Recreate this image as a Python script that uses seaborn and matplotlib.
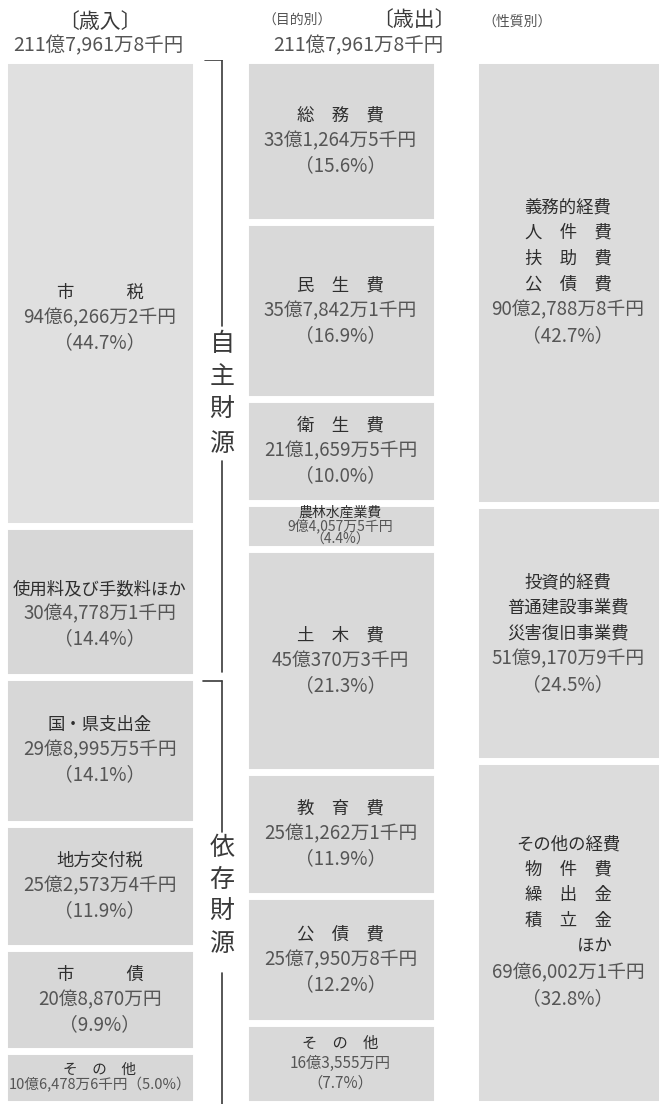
import matplotlib
matplotlib.use('Agg')
import matplotlib.pyplot as plt
import seaborn as sns
import numpy as np

# ==============================================================================
# データ（歳入・歳出）
# ==============================================================================
total_text = '211億7,961万8千円'

rev_labels = ['市　　　税', '使用料及び手数料ほか', '国・県支出金', '地方交付税', '市　　　債', 'そ　の　他']
rev_amounts = ['94億6,266万2千円', '30億4,778万1千円', '29億8,995万5千円',
               '25億2,573万4千円', '20億8,870万円', '10億6,478万6千円']
rev_pct = [44.7, 14.4, 14.1, 11.9, 9.9, 5.0]

pur_labels = ['総　務　費', '民　生　費', '衛　生　費', '農林水産業費',
              '土　木　費', '教　育　費', '公　債　費', 'そ　の　他']
pur_amounts = ['33億1,264万5千円', '35億7,842万1千円', '21億1,659万5千円', '9億4,057万5千円',
               '45億370万3千円', '25億1,262万1千円', '25億7,950万8千円', '16億3,555万円']
pur_pct = [15.6, 16.9, 10.0, 4.4, 21.3, 11.9, 12.2, 7.7]

nat_labels = ['義務的経費', '投資的経費', 'その他の経費']
nat_items = [['人　件　費', '扶　助　費', '公　債　費'],
             ['普通建設事業費', '災害復旧事業費'],
             ['物　件　費', '繰　出　金', '積　立　金', '　　　ほか']]
nat_amounts = ['90億2,788万8千円', '51億9,170万9千円', '69億6,002万1千円']
nat_pct = [42.7, 24.5, 32.8]

# 自主財源 = 市税 + 使用料及び手数料ほか
jishu_pct = rev_pct[0] + rev_pct[1]

# ==============================================================================
# スタイル
# ==============================================================================
sns.set_theme(style='white')
plt.rcParams['font.family'] = ['Noto Sans CJK JP', 'DejaVu Sans']

W, H = 662, 1105
fig = plt.figure(figsize=(W / 100, H / 100), dpi=100, facecolor='white')
top_px, bot_px = 59.5, 1103.5
ax = fig.add_axes([0, 1 - bot_px / H, 1, (bot_px - top_px) / H])

GAP_LW = 5.0
NAME_C = '#2e2e2e'
TEXT_C = '#555555'
BIG = 13.5
STEP = 18


def draw_column(cx, width, pcts, colors):
    cum = np.cumsum(pcts)
    # 大きい累積値から描いて上書きしていく
    for c, col in zip(cum[::-1], colors[::-1]):
        sns.barplot(x=[cx], y=[c], native_scale=True, width=width, color=col,
                    saturation=1, edgecolor='white', linewidth=GAP_LW,
                    errorbar=None, ax=ax)
    return cum - np.array(pcts) / 2


def put_lines(cx, cy, lines, sizes, step, colors, shift=0):
    n = len(lines)
    for i, (t, s, c) in enumerate(zip(lines, sizes, colors)):
        off = (n - 1) / 2 * step - i * step - shift
        ax.annotate(t, xy=(cx, cy), xytext=(0, off), textcoords='offset points',
                    ha='center', va='center', fontsize=s, color=c)


# --- 歳入 ---
rev_colors = ['#e0e0e0'] + ['#d7d7d7'] * 5
rev_shift = [18, 9, 0, 0, 0, 0]
rev_mid = draw_column(100, 192, rev_pct, rev_colors)
for i, (lab, amt, p) in enumerate(zip(rev_labels, rev_amounts, rev_pct)):
    if p < 6:
        put_lines(100, rev_mid[i], [lab, f'{amt}（{p}%）'], [10.5, 10.5], 11,
                  [NAME_C, TEXT_C])
    else:
        put_lines(100, rev_mid[i], [lab, amt, f'（{p}%）'], [12.5, BIG, BIG], STEP,
                  [NAME_C, TEXT_C, TEXT_C], rev_shift[i])

# --- 歳出（目的別）---
pur_colors = ['#d9d9d9'] * len(pur_pct)
pur_mid = draw_column(340.5, 192, pur_pct, pur_colors)
for i, (lab, amt, p) in enumerate(zip(pur_labels, pur_amounts, pur_pct)):
    if p < 5:
        put_lines(340.5, pur_mid[i], [lab, amt, f'（{p}%）'], [10] * 3, 9.5,
                  [NAME_C, TEXT_C, TEXT_C])
    elif p < 8:
        put_lines(340.5, pur_mid[i], [lab, amt, f'（{p}%）'], [11] * 3, 14.5,
                  [NAME_C, TEXT_C, TEXT_C])
    else:
        put_lines(340.5, pur_mid[i], [lab, amt, f'（{p}%）'], [12.5, BIG, BIG], STEP,
                  [NAME_C, TEXT_C, TEXT_C])

# --- 歳出（性質別）---
nat_colors = ['#dcdcdc'] * len(nat_pct)
nat_shift = [-8, 0, -8]
nat_mid = draw_column(568, 187, nat_pct, nat_colors)
for i, (lab, items, amt, p) in enumerate(zip(nat_labels, nat_items, nat_amounts, nat_pct)):
    lines = [lab] + items + [amt, f'（{p}%）']
    cols = [NAME_C] * (1 + len(items)) + [TEXT_C, TEXT_C]
    sizes = [12.5] * (1 + len(items)) + [BIG, BIG]
    put_lines(568, nat_mid[i], lines, sizes, 18.5, cols, nat_shift[i])

# --- 自主財源 / 依存財源 の括弧 ---
bx = 222
lc = '#3a3a3a'
ax.plot([205, bx], [0, 0], color=lc, lw=1.2)
ax.plot([bx, bx], [0, 25.5], color=lc, lw=1.2)
ax.plot([bx, bx], [38.5, jishu_pct - 0.4], color=lc, lw=1.2)
ax.plot([203, bx], [jishu_pct + 0.4, jishu_pct + 0.4], color=lc, lw=1.2)
ax.plot([bx, bx], [jishu_pct + 0.4, 74.0], color=lc, lw=1.2)
ax.plot([bx, bx], [87.5, 100], color=lc, lw=1.2)

for j, ch in enumerate('自主財源'):
    ax.annotate(ch, xy=(bx, 32), xytext=(0, 36 - j * 24), textcoords='offset points',
                ha='center', va='center', fontsize=18, color='#3a3a3a')
for j, ch in enumerate('依存財源'):
    ax.annotate(ch, xy=(bx, (jishu_pct + 100) / 2 + 0.8), xytext=(0, 36 - j * 23),
                textcoords='offset points', ha='center', va='center',
                fontsize=18, color='#3a3a3a')

ax.set_xlim(0, W)
ax.set_ylim(100, 0)
ax.axis('off')

# --- 見出し ---
def ftext(x, y, s, size, color='#3a3a3a'):
    fig.text(x / W, 1 - y / H, s, ha='center', va='center', fontsize=size, color=color)

ftext(100, 22, '〔歳入〕', 15)
ftext(98, 46, total_text, 14, TEXT_C)
ftext(297, 20, '（目的別）', 10, TEXT_C)
ftext(414, 20, '〔歳出〕', 15)
ftext(517, 22, '（性質別）', 10, TEXT_C)
ftext(358, 46, total_text, 14, TEXT_C)

fig.savefig('out.png', dpi=100, facecolor='white')
